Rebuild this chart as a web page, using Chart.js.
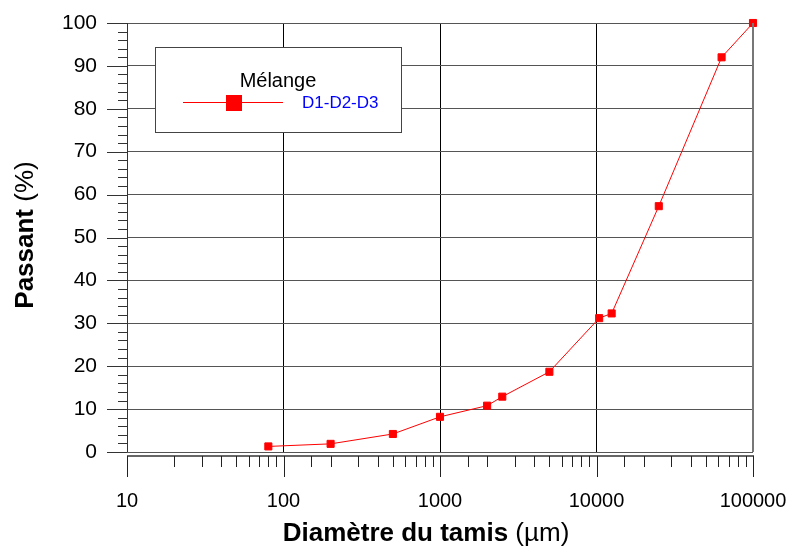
<!DOCTYPE html>
<html>
<head>
<meta charset="utf-8">
<script src="https://cdn.jsdelivr.net/npm/chart.js@4.4.1/dist/chart.umd.min.js"></script>
<style>
  html, body { margin: 0; padding: 0; background: #fff; }
  #wrap { width: 792px; height: 548px; }
</style>
</head>
<body>
<div id="wrap"><canvas id="chart" width="792" height="548"></canvas></div>
<script>
// sieve sizes (µm) and percent passing
var sieveSizes = [80, 200, 500, 1000, 2000, 2500, 5000, 10400, 12500, 25000, 63000, 100000];
var passing = [1.3, 1.9, 4.2, 8.2, 10.8, 12.9, 18.7, 31.2, 32.3, 57.3, 92.0, 100];

var xTickLabels = ['10', '100', '1000', '10000', '100000'];
var yTickLabels = ['0', '10', '20', '30', '40', '50', '60', '70', '80', '90', '100'];

var seriesName = 'D1-D2-D3';
var legendTitle = 'Mélange';
var xTitleBold = 'Diamètre du tamis ';
var xTitleUnit = '(µm)';
var yTitleBold = 'Passant ';
var yTitleUnit = '(%)';

var points = sieveSizes.map(function (s, i) { return { x: s, y: passing[i] }; });

function isDecade(v) {
    var l = Math.log10(v);
    return Math.abs(l - Math.round(l)) < 1e-9;
}

var FONT = '"Liberation Sans", Arial, sans-serif';

// keep label overhang from shrinking the plot area
function noOverhang(s) {
    s.paddingLeft = 0; s.paddingRight = 0; s.paddingTop = 0; s.paddingBottom = 0;
}

// axis lines, tick marks (from the scales' own ticks), titles and the boxed legend
var decor = {
    id: 'decor',
    afterDraw: function (chart) {
        var ctx = chart.ctx, a = chart.chartArea;
        var xs = chart.scales.x, ys = chart.scales.y;
        ctx.save();

        function seg(x1, y1, x2, y2) {
            ctx.beginPath(); ctx.moveTo(x1, y1); ctx.lineTo(x2, y2); ctx.stroke();
        }

        // y axis
        ctx.strokeStyle = '#333';
        ctx.lineWidth = 1;
        seg(a.left + 0.5, a.top, a.left + 0.5, a.bottom);
        ys.ticks.forEach(function (t) {
            var py = Math.round(ys.getPixelForValue(t.value)) + 0.5;
            var major = t.value % 10 === 0;
            seg(a.left - (major ? 20 : 9), py, a.left, py);
        });

        // right frame
        ctx.strokeStyle = '#777';
        ctx.lineWidth = 2;
        seg(a.right, a.top, a.right, a.bottom);

        // x axis, detached a few px below the plot
        var ay = a.bottom + 4;
        ctx.strokeStyle = '#666';
        ctx.lineWidth = 2;
        seg(a.left, ay, a.right + 1, ay);
        ctx.strokeStyle = '#222';
        ctx.lineWidth = 1;
        xs.ticks.forEach(function (t) {
            var px = Math.round(xs.getPixelForValue(t.value)) + 0.5;
            var major = isDecade(t.value);
            seg(px, ay, px, ay + (major ? 21 : 11));
        });

        // x title: bold words + regular unit
        ctx.fillStyle = '#000';
        ctx.textBaseline = 'alphabetic';
        ctx.textAlign = 'left';
        ctx.font = 'bold 26px ' + FONT;
        var wb = ctx.measureText(xTitleBold).width;
        ctx.font = '26px ' + FONT;
        var wu = ctx.measureText(xTitleUnit).width;
        var cx = 426, x0 = cx - (wb + wu) / 2;
        ctx.font = 'bold 26px ' + FONT;
        ctx.fillText(xTitleBold, x0, 541);
        ctx.font = '26px ' + FONT;
        ctx.fillText(xTitleUnit, x0 + wb, 541);

        // y title, rotated
        ctx.save();
        ctx.translate(33, 235);
        ctx.rotate(-Math.PI / 2);
        ctx.font = 'bold 26px ' + FONT;
        wb = ctx.measureText(yTitleBold).width;
        ctx.font = '26px ' + FONT;
        wu = ctx.measureText(yTitleUnit).width;
        x0 = -(wb + wu) / 2;
        ctx.font = 'bold 26px ' + FONT;
        ctx.fillText(yTitleBold, x0, 0);
        ctx.font = '26px ' + FONT;
        ctx.fillText(yTitleUnit, x0 + wb, 0);
        ctx.restore();

        // legend box
        ctx.fillStyle = '#fff';
        ctx.fillRect(155, 47, 246, 85);
        ctx.strokeStyle = '#444';
        ctx.lineWidth = 1;
        ctx.strokeRect(155.5, 47.5, 246, 85);
        ctx.fillStyle = '#000';
        ctx.textAlign = 'center';
        ctx.font = '20px ' + FONT;
        ctx.fillText(legendTitle, 278, 87);
        ctx.strokeStyle = '#ff0000';
        seg(183, 102.5, 283, 102.5);
        ctx.fillStyle = '#ff0000';
        ctx.fillRect(226, 95, 16, 16);
        ctx.fillStyle = '#0000ff';
        ctx.textAlign = 'left';
        ctx.font = '17px ' + FONT;
        ctx.fillText(seriesName, 302, 108);

        ctx.restore();
    }
};

new Chart(document.getElementById('chart'), {
    type: 'line',
    data: {
        datasets: [{
            label: seriesName,
            data: points,
            borderColor: '#ff0000',
            backgroundColor: '#ff0000',
            borderWidth: 1,
            pointStyle: 'rect',
            pointRadius: 5,
            pointBorderWidth: 1,
            pointBorderColor: '#ff0000',
            pointBackgroundColor: '#ff0000',
            tension: 0,
            fill: false,
            clip: false
        }]
    },
    options: {
        responsive: false,
        animation: false,
        devicePixelRatio: 1,
        layout: { padding: { top: 23, right: 39, left: 0, bottom: 0 } },
        plugins: {
            legend: { display: false },
            tooltip: { enabled: false }
        },
        scales: {
            x: {
                type: 'logarithmic',
                min: 10,
                max: 100000,
                afterFit: function (s) { s.height = 96; noOverhang(s); },
                border: { display: false },
                grid: {
                    drawTicks: false,
                    lineWidth: 1,
                    color: function (c) {
                        return c.tick && isDecade(c.tick.value) ? '#000' : 'rgba(0,0,0,0)';
                    }
                },
                ticks: {
                    autoSkip: false,
                    maxRotation: 0,
                    padding: 37,
                    color: '#000',
                    font: { family: FONT, size: 20 },
                    callback: function (v) {
                        var lbl = String(Math.round(v));
                        return xTickLabels.indexOf(lbl) >= 0 ? lbl : '';
                    }
                }
            },
            y: {
                min: 0,
                max: 100,
                afterFit: function (s) { s.width = 127; noOverhang(s); },
                border: { display: false },
                grid: {
                    drawTicks: false,
                    lineWidth: 1,
                    color: function (c) {
                        return c.tick && c.tick.value % 10 === 0 ? '#555' : 'rgba(0,0,0,0)';
                    }
                },
                ticks: {
                    stepSize: 2,
                    autoSkip: false,
                    padding: 30,
                    color: '#000',
                    font: { family: FONT, size: 21 },
                    callback: function (v) {
                        var lbl = String(v);
                        return yTickLabels.indexOf(lbl) >= 0 ? lbl : '';
                    }
                }
            }
        }
    },
    plugins: [decor]
});
</script>
</body>
</html>
